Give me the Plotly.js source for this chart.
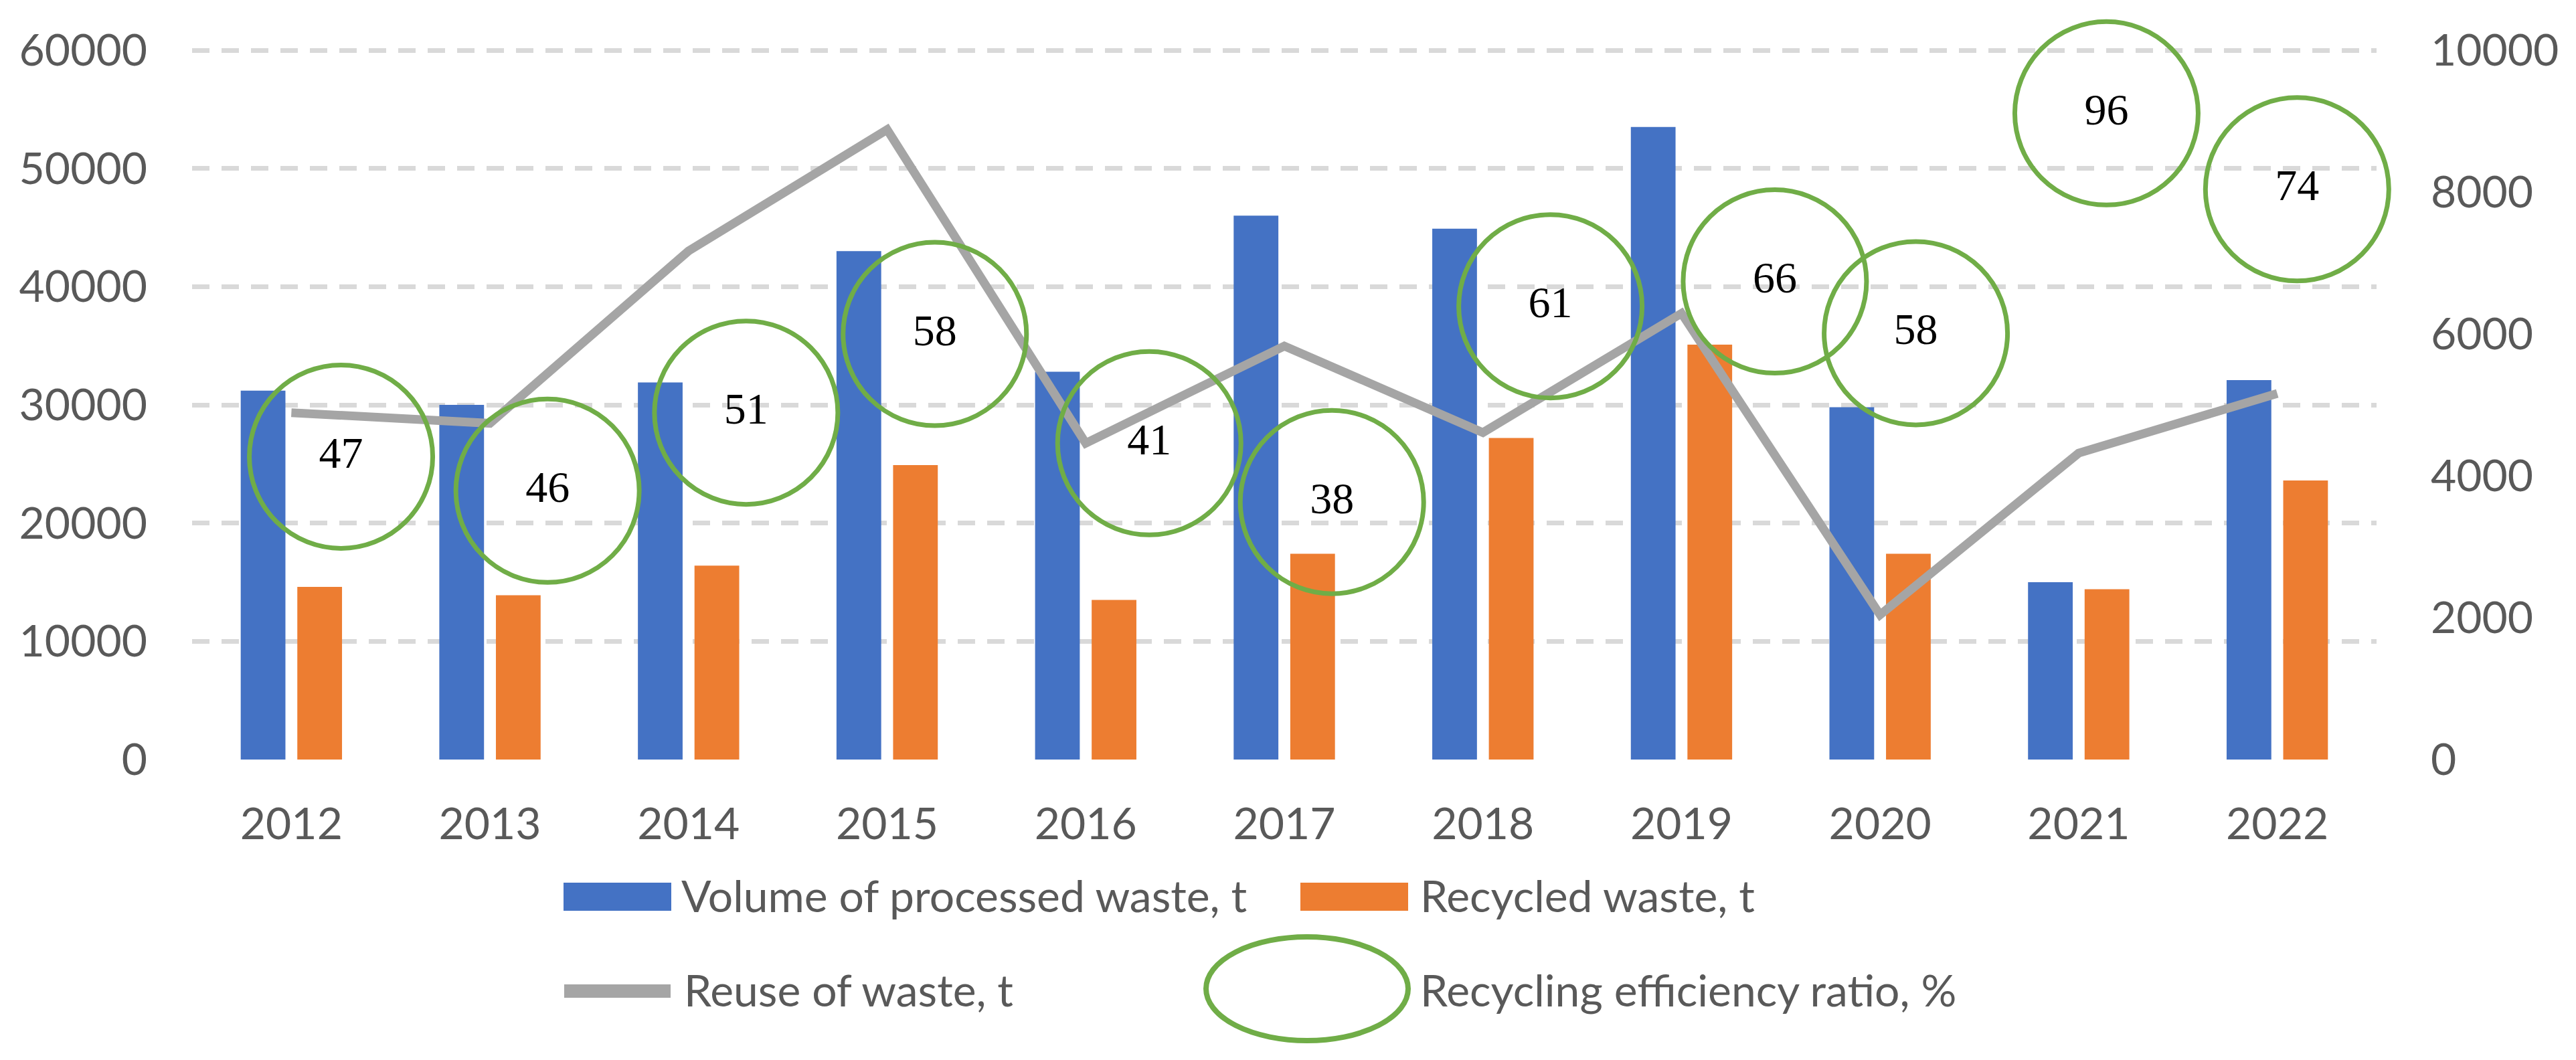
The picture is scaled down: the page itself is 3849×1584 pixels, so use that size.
<!DOCTYPE html>
<html>
<head>
<meta charset="utf-8">
<script src="https://cdn.plot.ly/plotly-3.0.1.min.js"></script>
<style>html,body{margin:0;padding:0;background:#fff;}#chart{width:3849px;height:1584px;}</style>
</head>
<body>
<div id="chart"></div>
<script>
// ---- data ----
const years = [2012, 2013, 2014, 2015, 2016, 2017, 2018, 2019, 2020, 2021, 2022];
const yearLabels = ["2012", "2013", "2014", "2015", "2016", "2017", "2018", "2019", "2020", "2021", "2022"];
const processedWaste = [31200, 30000, 31900, 43000, 32800, 46000, 44900, 53500, 29800, 15000, 32100];
const recycledWaste = [14600, 13900, 16400, 24900, 13500, 17400, 27200, 35100, 17400, 14400, 23600];
const reuseWaste = [4890, 4740, 7170, 8880, 4460, 5830, 4610, 6290, 2040, 4320, 5160];
const efficiencyRatio = [47, 46, 51, 58, 41, 38, 61, 66, 58, 96, 74];
// label bubble placement (as dragged in the original): offset in years, height on right axis
const ratioLabelDx = [0.25, 0.29, 0.29, 0.24, 0.32, 0.24, 0.34, 0.47, 0.18, 0.14, 0.10];
const ratioLabelY = [4270, 3790, 4890, 6000, 4460, 3630, 6390, 6740, 6010, 9110, 8040];
const seriesNames = ["Volume of processed waste, t", "Recycled waste, t", "Reuse of waste, t", "Recycling efficiency ratio, %"];
const leftTicks = [0, 10000, 20000, 30000, 40000, 50000, 60000];
const rightTicks = [0, 2000, 4000, 6000, 8000, 10000];

// ---- styles ----
const W = 3849, H = 1584;
const M = {l: 287, r: 298, t: 71, b: 449};
const FONT = "Lato, 'Open Sans', sans-serif";
const TXT = "#595959";
const C = {blue: "#4472C4", orange: "#ED7D31", gray: "#A5A5A5", green: "#70AD47"};
const FS = 66;
const TOP_PAD = 1.0038; // small headroom so the top gridline is kept (~4px)
function pxX(x) { return (x - M.l) / (W - M.l - M.r); }
function pxY(y) { return (H - M.b - y) / (H - M.t - M.b); }

const traces = [
  {type: "bar", name: seriesNames[0], x: years, y: processedWaste, marker: {color: C.blue}, hoverinfo: "skip"},
  {type: "bar", name: seriesNames[1], x: years, y: recycledWaste, marker: {color: C.orange}, hoverinfo: "skip"},
  {type: "scatter", mode: "lines", name: seriesNames[2], x: years, y: reuseWaste, yaxis: "y2",
   line: {color: C.gray, width: 13}, hoverinfo: "skip"},
  {type: "scatter", mode: "markers+text", name: seriesNames[3],
   x: years.map((v, i) => v + ratioLabelDx[i]), y: ratioLabelY, yaxis: "y2",
   text: efficiencyRatio.map(String), textposition: "middle center",
   textfont: {family: "'Liberation Serif', 'DejaVu Serif', serif", size: 66, color: "#000000"},
   marker: {size: 274, color: "rgba(0,0,0,0)", line: {color: C.green, width: 7}},
   cliponaxis: false, hoverinfo: "skip"}
];

// ---- manual legend (Excel-style wide keys) ----
const shapes = [
  {type: "rect", xref: "paper", yref: "paper", x0: pxX(842), x1: pxX(1003), y0: pxY(1361), y1: pxY(1319),
   fillcolor: C.blue, line: {width: 0}},
  {type: "rect", xref: "paper", yref: "paper", x0: pxX(1943), x1: pxX(2104), y0: pxY(1361), y1: pxY(1319),
   fillcolor: C.orange, line: {width: 0}},
  {type: "line", xref: "paper", yref: "paper", x0: pxX(843), x1: pxX(1002), y0: pxY(1481), y1: pxY(1481),
   line: {color: C.gray, width: 20}},
  {type: "circle", xref: "paper", yref: "paper", x0: pxX(1802), x1: pxX(2104), y0: pxY(1555), y1: pxY(1400),
   line: {color: C.green, width: 8}}
];
const legendText = [
  {text: seriesNames[0], x: 1016, y: 1337},
  {text: seriesNames[1], x: 2120, y: 1337},
  {text: seriesNames[2], x: 1020, y: 1478},
  {text: seriesNames[3], x: 2120, y: 1478}
];
const annotations = legendText.map(d => ({
  text: d.text, xref: "paper", yref: "paper", x: pxX(d.x), y: pxY(d.y),
  xanchor: "left", yanchor: "middle", showarrow: false,
  font: {family: FONT, size: FS, color: TXT}
}));

const layout = {
  width: W, height: H,
  margin: {l: M.l, r: M.r, t: M.t, b: M.b, pad: 0},
  paper_bgcolor: "#ffffff", plot_bgcolor: "#ffffff",
  font: {family: FONT, size: FS, color: TXT},
  showlegend: false,
  barmode: "group", bargap: 0.43, bargroupgap: 0.21,
  xaxis: {
    type: "linear", range: [2011.5, 2022.5], tickmode: "array", tickvals: years, ticktext: yearLabels,
    showgrid: false, zeroline: false, showline: false, ticks: "",
    tickfont: {family: FONT, size: FS, color: TXT}, ticklabelstandoff: 52
  },
  yaxis: {
    range: [0, 60000 * TOP_PAD], tickmode: "array", tickvals: leftTicks, ticktext: leftTicks.map(String),
    showgrid: true, gridcolor: "#D9D9D9", gridwidth: 7, griddash: "26px,18px",
    zeroline: true, zerolinecolor: "rgba(0,0,0,0)", zerolinewidth: 1,
    showline: false, ticks: "",
    tickfont: {family: FONT, size: FS, color: TXT}, ticklabelstandoff: 66
  },
  yaxis2: {
    overlaying: "y", side: "right", range: [0, 10000 * TOP_PAD], tickmode: "array",
    tickvals: rightTicks, ticktext: rightTicks.map(String),
    showgrid: false, zeroline: false, showline: false, ticks: "",
    tickfont: {family: FONT, size: FS, color: TXT}, ticklabelstandoff: 80
  },
  shapes: shapes,
  annotations: annotations
};

Plotly.newPlot("chart", traces, layout, {staticPlot: true, displayModeBar: false});
</script>
</body>
</html>
